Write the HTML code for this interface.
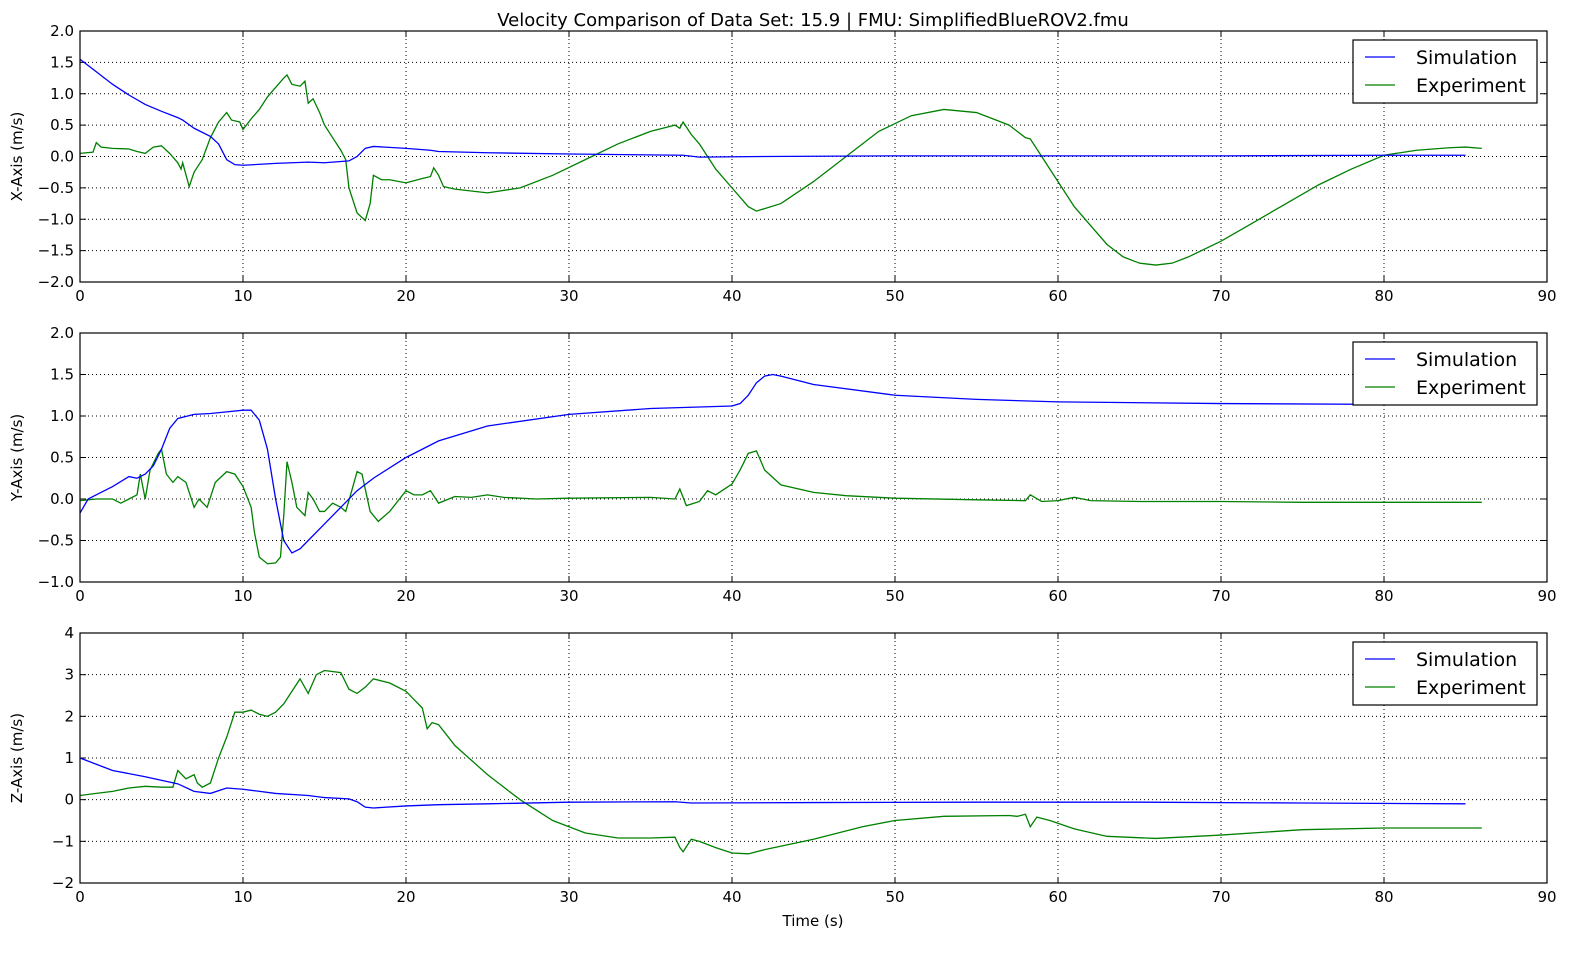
<!DOCTYPE html>
<html><head><meta charset="utf-8"><style>
body{margin:0;background:#fff;}
svg{display:block;font-family:"DejaVu Sans","Liberation Sans",sans-serif;}
</style></head><body>
<svg id="chart" width="1589" height="954" viewBox="0 0 1589 954">
<rect width="1589" height="954" fill="#fff"/>
<text x="813" y="26" text-anchor="middle" font-size="18">Velocity Comparison of Data Set: 15.9 | FMU: SimplifiedBlueROV2.fmu</text>
<text x="813" y="926" text-anchor="middle" font-size="15">Time (s)</text>
</svg>
<script>
const xTicks=[0,10,20,30,40,50,60,70,80,90];
const xSimT=[0,1,2,3,4,5,6,6.3,7,8,8.5,9,9.5,10,12,14,15,16.5,17,17.5,18,20,21.5,22,25,30,37,38,42,50,60,70,80,85];
const xSimV=[1.55,1.35,1.15,0.98,0.83,0.72,0.62,0.58,0.45,0.32,0.2,-0.05,-0.13,-0.14,-0.11,-0.09,-0.1,-0.07,0,0.13,0.16,0.13,0.1,0.08,0.06,0.04,0.02,-0.01,0,0.01,0.01,0.01,0.02,0.02];
const xExpT=[0,0.8,1,1.3,2,3,3.5,4,4.5,5,5.5,6,6.2,6.3,6.7,7,7.5,8,8.5,9,9.3,9.8,10,10.5,11,11.5,12,12.5,12.7,13,13.5,13.8,14,14.3,14.7,15,15.5,16,16.3,16.5,17,17.5,17.8,18,18.5,19,20,21,21.5,21.7,22,22.3,23,25,27,29,31,33,35,36.5,36.8,37,37.5,38,39,40,41,41.5,43,45,47,49,51,53,55,57,58,58.3,59,60,61,62,63,64,65,66,67,68,70,72,74,76,78,80,82,84,85,86];
const xExpV=[0.05,0.07,0.22,0.15,0.13,0.12,0.08,0.05,0.15,0.17,0.05,-0.1,-0.2,-0.1,-0.48,-0.25,-0.05,0.3,0.55,0.7,0.58,0.55,0.43,0.6,0.75,0.95,1.1,1.25,1.3,1.15,1.12,1.2,0.85,0.92,0.7,0.5,0.3,0.1,-0.05,-0.5,-0.9,-1.02,-0.75,-0.3,-0.37,-0.37,-0.42,-0.35,-0.32,-0.18,-0.3,-0.48,-0.52,-0.58,-0.5,-0.3,-0.05,0.2,0.4,0.5,0.45,0.55,0.35,0.2,-0.2,-0.5,-0.8,-0.87,-0.75,-0.4,0,0.4,0.65,0.75,0.7,0.5,0.3,0.28,0,-0.4,-0.8,-1.1,-1.4,-1.6,-1.7,-1.73,-1.7,-1.6,-1.35,-1.05,-0.75,-0.45,-0.2,0.02,0.1,0.14,0.15,0.13];
const ySimT=[0,0.5,1,2,3,3.5,4,4.5,5,5.5,6,7,8,9,10,10.5,11,11.5,12,12.5,13,13.5,14,15,16,17,18,20,22,25,30,35,40,40.5,41,41.5,42,42.5,43,45,50,55,60,70,80,85];
const ySimV=[-0.17,0,0.05,0.15,0.27,0.25,0.3,0.4,0.6,0.85,0.97,1.02,1.03,1.05,1.07,1.07,0.95,0.6,0,-0.5,-0.65,-0.6,-0.5,-0.3,-0.1,0.1,0.25,0.5,0.7,0.88,1.02,1.09,1.12,1.15,1.25,1.4,1.48,1.5,1.48,1.38,1.25,1.2,1.17,1.15,1.14,1.14];
const yExpT=[0,1,2,2.5,3,3.5,3.7,4,4.3,4.8,5,5.3,5.7,6,6.5,7,7.3,7.8,8.3,9,9.5,10,10.5,10.7,11,11.5,12,12.3,12.5,12.7,13,13.3,13.8,14,14.3,14.7,15,15.5,16,16.3,16.6,17,17.3,17.8,18.3,19,20,20.5,21,21.5,22,23,24,25,26,28,30,35,36.5,36.8,37.2,38,38.5,39,40,40.5,41,41.5,42,43,45,47,50,55,58,58.3,59,60,61,62,65,70,75,80,83,86];
const yExpV=[-0.02,0,0,-0.05,0,0.05,0.3,0,0.35,0.55,0.6,0.3,0.2,0.27,0.2,-0.1,0,-0.1,0.2,0.33,0.3,0.15,-0.1,-0.4,-0.7,-0.78,-0.77,-0.7,-0.2,0.45,0.2,-0.1,-0.2,0.08,0,-0.15,-0.15,-0.05,-0.1,-0.15,0.05,0.33,0.3,-0.15,-0.27,-0.15,0.1,0.05,0.05,0.1,-0.05,0.03,0.02,0.05,0.02,0,0.01,0.02,0,0.12,-0.08,-0.03,0.1,0.05,0.18,0.35,0.55,0.58,0.35,0.17,0.08,0.04,0.01,-0.01,-0.02,0.05,-0.03,-0.02,0.02,-0.02,-0.03,-0.03,-0.04,-0.04,-0.04,-0.04];
const zSimT=[0,1,2,4,6,7,8,9,10,12,14,15,16.5,17,17.5,18,20,22,25,30,36.5,37.5,45,55,65,75,85];
const zSimV=[1.0,0.85,0.7,0.55,0.38,0.2,0.15,0.28,0.25,0.15,0.1,0.05,0.02,-0.05,-0.18,-0.2,-0.15,-0.12,-0.1,-0.06,-0.05,-0.08,-0.07,-0.06,-0.06,-0.08,-0.1];
const zExpT=[0,1,2,3,4,5,5.7,6,6.5,7,7.2,7.5,8,8.5,9,9.5,10,10.5,11,11.5,12,12.5,13,13.5,14,14.5,15,16,16.5,17,17.5,18,19,20,20.5,21,21.3,21.6,22,23,25,27,29,31,33,35,36.5,36.8,37,37.5,38,39,40,41,42,45,48,50,53,57,57.5,58,58.3,58.7,59.5,61,63,66,70,75,80,86];
const zExpV=[0.1,0.15,0.2,0.28,0.32,0.3,0.3,0.7,0.5,0.6,0.4,0.3,0.4,1.0,1.5,2.1,2.1,2.15,2.05,2.0,2.1,2.3,2.6,2.9,2.55,3.0,3.1,3.05,2.65,2.55,2.7,2.9,2.8,2.6,2.4,2.2,1.7,1.85,1.8,1.3,0.6,0,-0.5,-0.8,-0.92,-0.92,-0.9,-1.15,-1.25,-0.95,-1.0,-1.15,-1.28,-1.3,-1.2,-0.95,-0.65,-0.5,-0.4,-0.38,-0.4,-0.35,-0.65,-0.42,-0.5,-0.7,-0.88,-0.93,-0.85,-0.72,-0.68,-0.68];
const xYTicks=[2.0,1.5,1.0,0.5,0.0,-0.5,-1.0,-1.5,-2.0];
const yYTicks=[2.0,1.5,1.0,0.5,0.0,-0.5,-1.0];
const zYTicks=[4,3,2,1,0,-1,-2];

const NS="http://www.w3.org/2000/svg";
const svg=document.getElementById('chart');
function mk(tag,attrs,parent){const e=document.createElementNS(NS,tag);for(const k in attrs)e.setAttribute(k,attrs[k]);(parent||svg).appendChild(e);return e;}
const L=80,R=1547;
const sx=v=>L+(v-0)/(90-0)*(R-L);
function panel(key,top,bot,ymax,ymin,yticks,dec,label,simT,simV,expT,expV){
  const sy=v=>top+(ymax-v)/(ymax-ymin)*(bot-top);
  const g=mk('g',{});
  
  
  xTicks.forEach(t=>{
    if(t>0&&t<90){const l=mk('line',{x1:sx(t),x2:sx(t),y1:top,y2:bot,stroke:'#000','stroke-width':1,'stroke-dasharray':'1,3'},g);
    }
    mk('line',{x1:sx(t),x2:sx(t),y1:bot,y2:bot-6,stroke:'#000'},g);
    mk('line',{x1:sx(t),x2:sx(t),y1:top,y2:top+6,stroke:'#000'},g);
    const tx=mk('text',{x:sx(t),y:bot+19,'text-anchor':'middle','font-size':15},g);tx.textContent=t;
    
  });
  yticks.forEach(t=>{
    if(t<ymax&&t>ymin){const l=mk('line',{x1:L,x2:R,y1:sy(t),y2:sy(t),stroke:'#000','stroke-width':1,'stroke-dasharray':'1,3'},g);
    }
    mk('line',{x1:L,x2:L+6,y1:sy(t),y2:sy(t),stroke:'#000'},g);
    mk('line',{x1:R,x2:R-6,y1:sy(t),y2:sy(t),stroke:'#000'},g);
    const tx=mk('text',{x:L-6,y:sy(t)+5,'text-anchor':'end','font-size':15},g);tx.textContent=t.toFixed(dec).replace('-','\u2212');
    
  });
  const yl=mk('text',{x:0,y:0,transform:`translate(22,${(top+bot)/2}) rotate(-90)`,'text-anchor':'middle','font-size':15},g);yl.textContent=label;
  
  const pe=mk('polyline',{points:expT.map((t,i)=>sx(t)+','+sy(expV[i])).join(' '),fill:'none',stroke:'#008000','stroke-width':1.3},g);
  
  const ps=mk('polyline',{points:simT.map((t,i)=>sx(t)+','+sy(simV[i])).join(' '),fill:'none',stroke:'#0000ff','stroke-width':1.3},g);
  
  mk('rect',{x:L,y:top,width:R-L,height:bot-top,fill:'none',stroke:'#000','stroke-width':1.2},g);
  const lg=mk('g',{},g);
  
  const ly=top+9;
  mk('rect',{x:1353,y:ly,width:184,height:63,fill:'#fff',stroke:'#000','stroke-width':1.2},lg);
  [['Simulation','#0000ff'],['Experiment','#008000']].forEach((e,i)=>{
    const yy=ly+17+i*28;
    mk('line',{x1:1365,x2:1395,y1:yy,y2:yy,stroke:e[1],'stroke-width':1.3},lg);
    const t=mk('text',{x:1416,y:yy+7,'font-size':19},lg);t.textContent=e[0];
    
  });
}
panel('x-axis',31,282,2,-2,xYTicks,1,'X-Axis (m/s)',xSimT,xSimV,xExpT,xExpV);
panel('y-axis',333,582,2,-1,yYTicks,1,'Y-Axis (m/s)',ySimT,ySimV,yExpT,yExpV);
panel('z-axis',633,883,4,-2,zYTicks,0,'Z-Axis (m/s)',zSimT,zSimV,zExpT,zExpV);
</script>
</body></html>
